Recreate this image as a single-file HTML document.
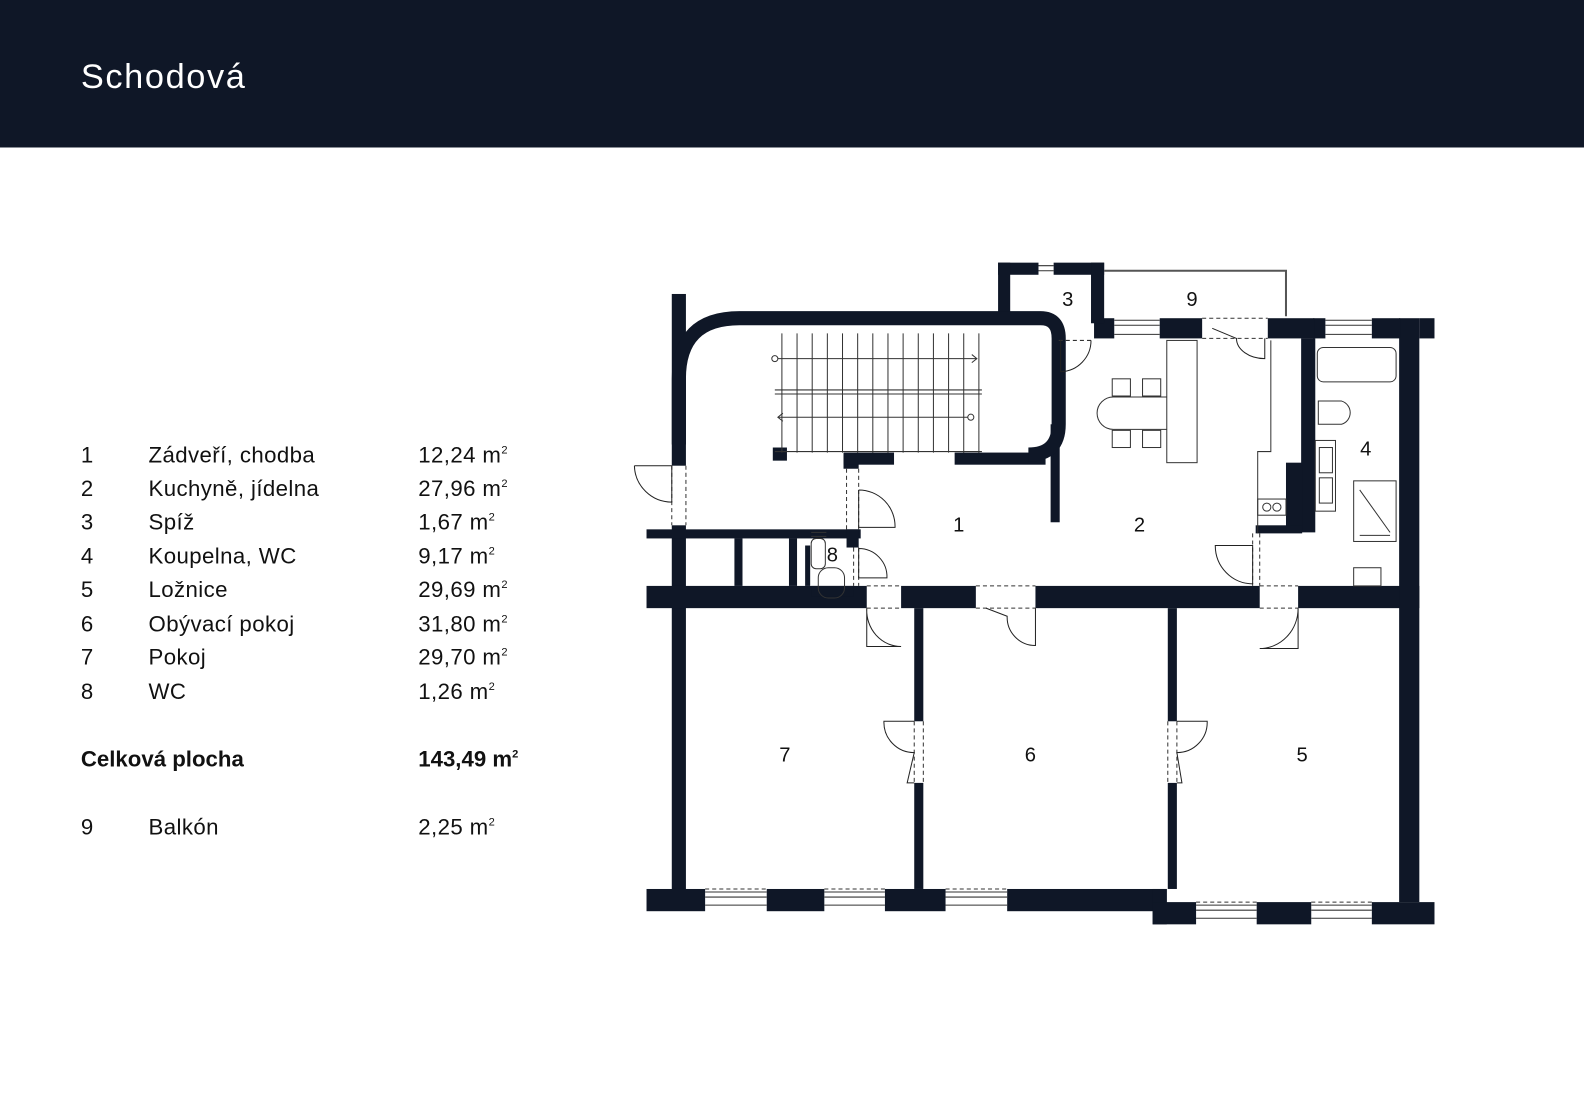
<!DOCTYPE html>
<html><head><meta charset="utf-8"><style>
body{margin:0;width:1584px;height:1120px;background:#fff;font-family:"Liberation Sans",sans-serif;overflow:hidden}
#w{position:absolute;left:0;top:0;width:1568px;height:1109px;transform:scale(1.0102);transform-origin:0 0}
.hdr{position:absolute;left:0;top:0;width:1568px;height:146px;background:#0f1727}
.hdr span{position:absolute;left:80px;top:57px;color:#fff;font-size:34px;letter-spacing:1.6px}
.row{position:absolute;left:80px;font-size:22px;letter-spacing:0.4px;color:#111;white-space:nowrap}
.n{position:absolute;left:0}.t{position:absolute;left:67px}.a{position:absolute;left:334px}
sup{font-size:11px;vertical-align:9px}
svg{position:absolute;left:0;top:0}
</style></head><body><div id="w">
<div class="hdr"><span>Schodová</span></div>
<div class="row" style="top:438px"><span class="n">1</span><span class="t">Zádveří, chodba</span><span class="a">12,24 m<sup>2</sup></span></div>
<div class="row" style="top:471px"><span class="n">2</span><span class="t">Kuchyně, jídelna</span><span class="a">27,96 m<sup>2</sup></span></div>
<div class="row" style="top:504px"><span class="n">3</span><span class="t">Spíž</span><span class="a">1,67 m<sup>2</sup></span></div>
<div class="row" style="top:538px"><span class="n">4</span><span class="t">Koupelna, WC</span><span class="a">9,17 m<sup>2</sup></span></div>
<div class="row" style="top:571px"><span class="n">5</span><span class="t">Ložnice</span><span class="a">29,69 m<sup>2</sup></span></div>
<div class="row" style="top:605px"><span class="n">6</span><span class="t">Obývací pokoj</span><span class="a">31,80 m<sup>2</sup></span></div>
<div class="row" style="top:638px"><span class="n">7</span><span class="t">Pokoj</span><span class="a">29,70 m<sup>2</sup></span></div>
<div class="row" style="top:672px"><span class="n">8</span><span class="t">WC</span><span class="a">1,26 m<sup>2</sup></span></div>
<div class="row" style="top:739px;font-weight:bold;letter-spacing:0"><span class="n">Celková plocha</span><span class="a">143,49 m<sup>2</sup></span></div>
<div class="row" style="top:806px"><span class="n">9</span><span class="t">Balkón</span><span class="a">2,25 m<sup>2</sup></span></div>

<svg width="1568" height="1109" viewBox="0 0 1568 1109">
<g fill="#0f1727">
<rect x="665" y="291" width="14" height="170"/>
<rect x="665" y="520" width="14" height="380"/>
<rect x="640" y="524" width="212" height="9"/>
<rect x="640" y="580" width="218" height="22"/>
<rect x="892" y="580" width="74" height="22"/>
<rect x="1025" y="580" width="222" height="22"/>
<rect x="1285" y="580" width="120" height="22"/>
<rect x="727" y="533" width="8" height="47"/>
<rect x="781" y="533" width="8" height="47"/>
<rect x="797" y="540" width="5" height="40"/>
<rect x="803" y="580" width="42" height="10"/>
<rect x="838" y="524" width="12" height="18"/>
<rect x="835" y="450" width="15" height="14"/>
<rect x="835" y="448" width="50" height="12"/>
<rect x="945" y="448" width="90" height="12"/>
<rect x="765" y="443" width="14" height="13"/>
<rect x="1385" y="315" width="20" height="578"/>
<rect x="1405" y="315" width="15" height="20"/>
<rect x="1300" y="315" width="12" height="20"/>
<rect x="1358" y="315" width="28" height="20"/>
<rect x="1255" y="315" width="46" height="20"/>
<rect x="1148" y="315" width="42" height="20"/>
<rect x="1083" y="315" width="20" height="20"/>
<rect x="1288" y="335" width="14" height="192"/>
<rect x="1273" y="458" width="16" height="69"/>
<rect x="1243" y="520" width="46" height="8"/>
<rect x="905" y="602" width="9" height="112"/><rect x="905" y="775" width="9" height="105"/>
<rect x="1156" y="602" width="9" height="112"/><rect x="1156" y="775" width="9" height="105"/>
<rect x="640" y="880" width="58" height="22"/>
<rect x="759" y="880" width="57" height="22"/>
<rect x="876" y="880" width="60" height="22"/>
<rect x="997" y="880" width="158" height="22"/>
<rect x="1141" y="880" width="14" height="35"/>
<rect x="1141" y="893" width="43" height="22"/>
<rect x="1244" y="893" width="54" height="22"/>
<rect x="1358" y="893" width="62" height="22"/>
<rect x="988" y="260" width="40" height="12"/><rect x="1043" y="260" width="50" height="12"/>
<rect x="988" y="260" width="12" height="55"/><rect x="1080" y="260" width="13" height="60"/>
<rect x="1040" y="420" width="9" height="97"/>
</g>
<path d="M672 440 L672 375 Q672 315 732 315 L1030 315 Q1048 315 1048 335 L1048 420 Q1048 450 1018 450" fill="none" stroke="#0f1727" stroke-width="14"/>
<path d="M1093 268 H1273 V313" fill="none" stroke="#555" stroke-width="2"/>
<g stroke="#333" stroke-width="1" fill="none">
<path d="M1103 317H1148M1103 322H1148M1103 331H1148"/>
<path d="M1312 317H1358M1312 322H1358M1312 331H1358"/>
<path d="M1028 263H1043M1028 268H1043"/>
<path d="M698 883H759M698 888H759M698 896H759M816 883H876M816 888H876M816 896H876"/>
<path d="M936 883H997M936 888H997M936 896H997"/>
<path d="M1184 896H1244M1184 901H1244M1184 909H1244M1298 896H1358M1298 901H1358M1298 909H1358"/>
</g>
<g stroke="#333" stroke-width="1" fill="none" stroke-dasharray="4 3">
<path d="M698 880H759M816 880H876M936 880H997M1184 893H1244M1298 893H1358"/>
<path d="M1190 315H1255M1190 335H1255"/>
<path d="M1048 337H1080"/>
<path d="M665 461V520M679 461V520"/>
<path d="M838 464V524M850 464V524"/>
<path d="M858 580H892M858 602H892M966 580H1025M966 602H1025M1247 580H1285M1247 602H1285"/>
<path d="M905 714V775M914 714V775M1156 714V775M1165 714V775"/>
<path d="M1240 528V580M1247 528V580"/>
<path d="M850 542V580M845 542V580"/>
</g>
<g stroke="#222" stroke-width="1" fill="none">
<path d="M628 461 H665 V497 A37 37 0 0 1 628 461"/>
<path d="M850 485 V522 H886 A36 36 0 0 0 850 485"/>
<path d="M850 543 V572 H878 A28 28 0 0 0 850 543"/>
<path d="M858 602 V640 H892 A34 36 0 0 1 858 602"/>
<path d="M1025 602 V639 A28 28 0 0 1 997 610 L976 602"/>
<path d="M1285 602 V642 H1247 A38 40 0 0 0 1285 602"/>
<path d="M1240 578 V540 H1203 A37 38 0 0 0 1240 578"/>
<path d="M1050 337 V368 A31 31 0 0 0 1080 337"/>
<path d="M1252 335 V355 A28 20 0 0 1 1224 335 L1200 325"/>
<path d="M905 714 H875 A30 30 0 0 0 905 745 L898 775 H905"/>
<path d="M1165 714 H1195 A30 30 0 0 1 1165 745 L1170 775 H1165"/>
</g>
<g stroke="#333" stroke-width="1" fill="none">
<path d="M774 330V448M789 330V448M804 330V448M819 330V448M834 330V448M849 330V448M864 330V448M879 330V448M894 330V448M909 330V448M924 330V448M939 330V448M954 330V448M969 330V448"/>
<path d="M767 386H972M767 390H972M767 447H972"/>
<path d="M769 355H967M962 351L967 355L962 359"/>
<path d="M770 413H958M775 409L770 413L775 417"/>
<circle cx="767" cy="355" r="3" fill="#fff"/><circle cx="961" cy="413" r="3" fill="#fff"/>
</g>
<g stroke="#333" stroke-width="1" fill="none">
<rect x="1155" y="337" width="30" height="121"/>
<path d="M1155 393H1102A16 16 0 0 0 1102 425H1155"/>
<rect x="1101" y="375" width="18" height="17"/><rect x="1131" y="375" width="18" height="17"/>
<rect x="1101" y="426" width="18" height="17"/><rect x="1131" y="426" width="18" height="17"/>
<path d="M1258 337V447H1245V528"/>
<circle cx="1254" cy="502" r="4"/><circle cx="1264" cy="502" r="4"/><rect x="1245" y="494" width="28" height="16"/>
<rect x="1304" y="344" width="78" height="34" rx="6"/>
<path d="M1305 397H1328A12 12 0 0 1 1328 420H1305Z"/>
<rect x="1302" y="436" width="20" height="70"/><rect x="1306" y="443" width="13" height="25"/><rect x="1306" y="473" width="13" height="25"/>
<rect x="1340" y="476" width="42" height="60"/><path d="M1346 485L1376 527M1346 530H1376"/>
<rect x="1340" y="562" width="27" height="18"/>
<rect x="803" y="533" width="14" height="30" rx="5"/>
<rect x="810" y="562" width="26" height="30" rx="10"/>
<path d="M803 531H818M803 527H818"/>
</g>
<g fill="#111" font-size="20" font-family="Liberation Sans, sans-serif" text-anchor="middle">
<text x="949" y="526">1</text><text x="1128" y="526">2</text><text x="1057" y="303">3</text>
<text x="1352" y="451">4</text><text x="1289" y="754">5</text><text x="1020" y="754">6</text>
<text x="777" y="754">7</text><text x="824" y="556">8</text><text x="1180" y="303">9</text>
</g>
</svg>
</div></body></html>
